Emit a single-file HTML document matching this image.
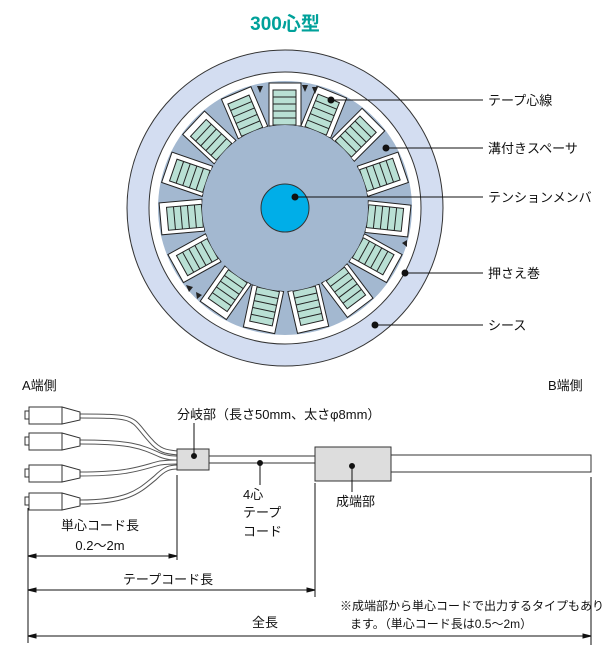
<!DOCTYPE html>
<html><head><meta charset="utf-8"><style>
body{margin:0;background:#fff;}
svg{display:block;font-family:"Liberation Sans","Noto Sans CJK JP",sans-serif;}
</style></head><body>
<svg width="607" height="657" viewBox="0 0 607 657" xmlns="http://www.w3.org/2000/svg">
<text x="285" y="30" font-size="19" font-weight="bold" fill="#00a19a" text-anchor="middle">300心型</text>
<circle cx="285" cy="208" r="158" fill="#d3ddf1" stroke="#333" stroke-width="1"/>
<circle cx="285" cy="208" r="136" fill="#fff" stroke="#333" stroke-width="1"/>
<circle cx="285" cy="208" r="127" fill="#a3b8d0"/>
<g id="slots" stroke="#222" stroke-width="1">
<g id="s"><rect x="269" y="83" width="32" height="43" fill="#fff"/><rect x="273" y="90" width="23" height="35" fill="#b9e0d4"/>
<line x1="273" y1="97" x2="296" y2="97"/><line x1="273" y1="104" x2="296" y2="104"/><line x1="273" y1="111" x2="296" y2="111"/><line x1="273" y1="118" x2="296" y2="118"/></g>
<use href="#s" transform="rotate(22 285 208)"/>
<use href="#s" transform="rotate(45 285 208)"/>
<use href="#s" transform="rotate(71 285 208)"/>
<use href="#s" transform="rotate(96 285 208)"/>
<use href="#s" transform="rotate(119 285 208)"/>
<use href="#s" transform="rotate(143 285 208)"/>
<use href="#s" transform="rotate(167 285 208)"/>
<use href="#s" transform="rotate(192 285 208)"/>
<use href="#s" transform="rotate(215 285 208)"/>
<use href="#s" transform="rotate(241 285 208)"/>
<use href="#s" transform="rotate(265 285 208)"/>
<use href="#s" transform="rotate(289 285 208)"/>
<use href="#s" transform="rotate(313 285 208)"/>
<use href="#s" transform="rotate(337 285 208)"/>
</g>
<circle cx="285" cy="208" r="83" fill="#a3b8d0"/>
<circle cx="285" cy="208" r="24" fill="#00aee8" stroke="#333" stroke-width="1"/>
<g fill="#222"><path d="M257 86l6 0-3 7z"/><path d="M302 85l6 0-3 7z"/><path d="M312 87l6 0-3 7z"/><path d="M402 243l5 -3 0 7z"/><path d="M186 285l7 2-4 5z"/><path d="M196 292l6 3-5 4z"/></g>
<g stroke="#111" stroke-width="1" fill="#111">
<line x1="331" y1="100" x2="483" y2="100"/><circle cx="331" cy="100" r="3"/>
<line x1="386" y1="148" x2="483" y2="148"/><circle cx="386" cy="148" r="3"/>
<line x1="295" y1="197" x2="483" y2="197"/><circle cx="295" cy="197" r="3"/>
<line x1="405" y1="273" x2="483" y2="273"/><circle cx="405" cy="273" r="3"/>
<line x1="375" y1="325" x2="483" y2="325"/><circle cx="375" cy="325" r="3"/>
</g>
<g font-size="13" fill="#111">
<text x="488" y="105">テープ心線</text>
<text x="488" y="153">溝付きスペーサ</text>
<text x="488" y="202">テンションメンバ</text>
<text x="488" y="278">押さえ巻</text>
<text x="488" y="330">シース</text>
<text x="22" y="390">A端側</text>
<text x="548" y="390">B端側</text>
<text x="177" y="419">分岐部（長さ50mm、太さφ8mm）</text>
<text x="243" y="499">4心</text>
<text x="243" y="517">テープ</text>
<text x="243" y="536">コード</text>
<text x="336" y="506">成端部</text>
<text x="100" y="530" text-anchor="middle">単心コード長</text>
<text x="100" y="550" text-anchor="middle">0.2〜2m</text>
<text x="168" y="584" text-anchor="middle">テープコード長</text>
<text x="265" y="627" text-anchor="middle">全長</text>
<text x="340" y="610" font-size="12">※成端部から単心コードで出力するタイプもあり</text>
<text x="350" y="628" font-size="12">ます。（単心コード長は0.5〜2m）</text>
</g>
<g fill="none">
<g stroke="#555" stroke-width="5">
<path d="M80 416 C140 416 130 418 150 440 C160 452 168 452 178 453"/>
<path d="M80 442 C130 442 140 446 160 455 C168 458 172 458 178 458"/>
<path d="M80 474 C130 474 140 468 160 463 C168 462 172 462 178 462"/>
<path d="M80 502 C130 502 140 490 155 478 C165 468 170 467 178 467"/>
</g>
<g stroke="#fff" stroke-width="3">
<path d="M80 416 C140 416 130 418 150 440 C160 452 168 452 178 453"/>
<path d="M80 442 C130 442 140 446 160 455 C168 458 172 458 178 458"/>
<path d="M80 474 C130 474 140 468 160 463 C168 462 172 462 178 462"/>
<path d="M80 502 C130 502 140 490 155 478 C165 468 170 467 178 467"/>
</g>
</g>
<g stroke="#333" stroke-width="1" fill="#fff">
<g id="p"><rect x="25" y="411" width="4" height="8"/><rect x="29" y="407" width="33" height="17"/><path d="M62 407 L80 412 L80 420 L62 424z"/></g>
<use href="#p" transform="translate(0 26)"/>
<use href="#p" transform="translate(0 58)"/>
<use href="#p" transform="translate(0 86)"/>
<rect x="209" y="456" width="106" height="7"/>
<rect x="391" y="455" width="200" height="17"/>
<rect x="177" y="449" width="32" height="21" fill="#ddd"/>
<rect x="315" y="447" width="76" height="34" fill="#ddd"/>
</g>
<g stroke="#111" stroke-width="1" fill="#111">
<circle cx="194" cy="456" r="2.5"/><line x1="194" y1="456" x2="194" y2="423"/>
<circle cx="260" cy="463" r="2.5"/><line x1="260" y1="463" x2="260" y2="485"/>
<circle cx="352" cy="466" r="2.5"/><line x1="352" y1="466" x2="352" y2="492"/>
<line x1="28" y1="508" x2="28" y2="643"/>
<line x1="177" y1="475" x2="177" y2="560"/>
<line x1="315" y1="483" x2="315" y2="597"/>
<line x1="591" y1="477" x2="591" y2="645"/>
<line x1="30" y1="556" x2="175" y2="556"/>
<line x1="30" y1="590" x2="313" y2="590"/>
<line x1="30" y1="636" x2="589" y2="636"/>
<path d="M28 556l8-2v4z M177 556l-8-2v4z M28 590l8-2v4z M315 590l-8-2v4z M28 636l8-2v4z M591 636l-8-2v4z"/>
</g>
</svg>
</body></html>
